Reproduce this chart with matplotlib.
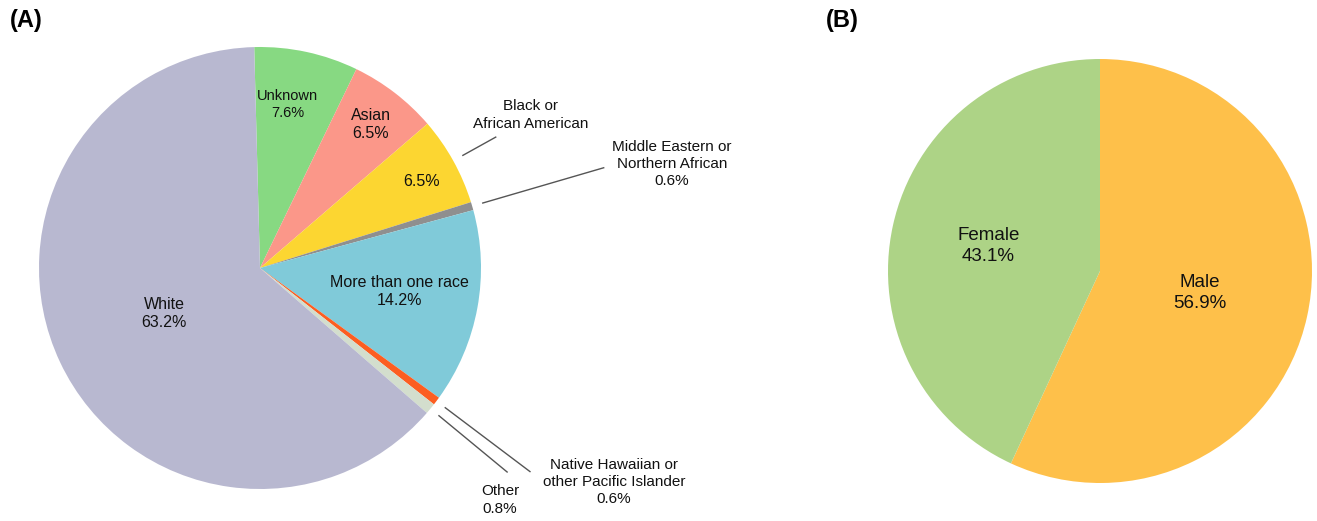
import numpy as np
import matplotlib
matplotlib.use("Agg")
from matplotlib import pyplot as plt

plt.rcParams['font.family'] = ['Liberation Sans', 'DejaVu Sans']

# Panel A : race / ethnicity
race_names = ['Unknown', 'Asian', 'Black or\nAfrican American',
              'Middle Eastern or\nNorthern African', 'More than one race',
              'Native Hawaiian or\nother Pacific Islander', 'Other', 'White']
race_pct = [7.6, 6.5, 6.5, 0.6, 14.2, 0.6, 0.8, 63.2]
race_colors = ['#87d982', '#fb9789', '#fcd631', '#8f8f8f', '#80cad9',
               '#fc5e21', '#d3decd', '#b8b8d0']

# Panel B : sex
sex_names = ['Male', 'Female']
sex_pct = [56.9, 43.1]
sex_colors = ['#fec04a', '#add386']

W, H = 1317, 521
fig = plt.figure(figsize=(W / 100, H / 100), dpi=100)


def pie_axes(cx, cy, r):
    # square axes in pixel units, pie of radius 1 fills it
    return fig.add_axes([(cx - r) / W, (H - cy - r) / H, 2 * r / W, 2 * r / H])


def fit_unit(ax):
    # pie() resets the limits, so set them back afterwards
    ax.set_xlim(-1, 1)
    ax.set_ylim(-1, 1)
    ax.set_aspect('equal')
    ax.axis('off')


def mid_angles(vals, start):
    vals = np.asarray(vals, dtype=float)
    edges = start - 360 * np.concatenate([[0], np.cumsum(vals)]) / vals.sum()
    return (edges[:-1] + edges[1:]) / 2


def polar(r, ang):
    a = np.deg2rad(ang)
    return r * np.cos(a), r * np.sin(a)


# ---- (A)
axA = pie_axes(260, 268, 221)
startA = 91.5
axA.pie(race_pct, colors=race_colors, startangle=startA, counterclock=False,
        radius=1, wedgeprops=dict(linewidth=0))
fit_unit(axA)
midA = mid_angles(race_pct, startA)

# labels drawn inside the slices: index, radius, angle tweak, size, show name
inside = [(0, 0.75, 2.5, 10.5, True), (1, 0.82, 0, 11.5, True),
          (2, 0.83, -1, 11.5, False), (4, 0.64, 0.7, 11.5, True),
          (7, 0.48, 0, 11.5, True)]
for i, r, da, fs, show_name in inside:
    x, y = polar(r, midA[i] + da)
    txt = f'{race_pct[i]:.1f}%'
    if show_name:
        txt = race_names[i] + '\n' + txt
    axA.text(x, y, txt, ha='center', va='center', fontsize=fs,
             linespacing=1.25, color='#111111')

# small slices: labels outside with leader lines
outside = {2: ((1.226, 0.692), 1.22, False),
           3: ((1.864, 0.471), 1.62, True),
           5: ((1.602, -0.968), 1.53, True),
           6: ((1.086, -1.050), 1.45, True)}
for i, (pos, r_end, show_pct) in outside.items():
    x0, y0 = polar(1.05, midA[i])
    x1, y1 = polar(r_end, midA[i])
    axA.plot([x0, x1], [y0, y1], color='#555555', lw=1.0, clip_on=False)
    txt = race_names[i]
    if show_pct:
        txt += f'\n{race_pct[i]:.1f}%'
    axA.text(pos[0], pos[1], txt, ha='center', va='center', fontsize=11,
             linespacing=1.3, color='#111111', clip_on=False)

# ---- (B)
axB = pie_axes(1100, 271, 212)
axB.pie(sex_pct, colors=sex_colors, startangle=90, counterclock=False,
        radius=1, wedgeprops=dict(linewidth=0))
fit_unit(axB)
midB = mid_angles(sex_pct, 90)
for i, r in [(0, 0.48), (1, 0.54)]:
    x, y = polar(r, midB[i])
    axB.text(x, y, f'{sex_names[i]}\n{sex_pct[i]:.1f}%', ha='center',
             va='center', fontsize=13.5, linespacing=1.3, color='#111111')

fig.text(10 / W, 1 - 20 / H, '(A)', fontsize=17, fontweight='bold',
         ha='left', va='center')
fig.text(826 / W, 1 - 20 / H, '(B)', fontsize=17, fontweight='bold',
         ha='left', va='center')

fig.savefig('out.png', dpi=100, facecolor='white')
